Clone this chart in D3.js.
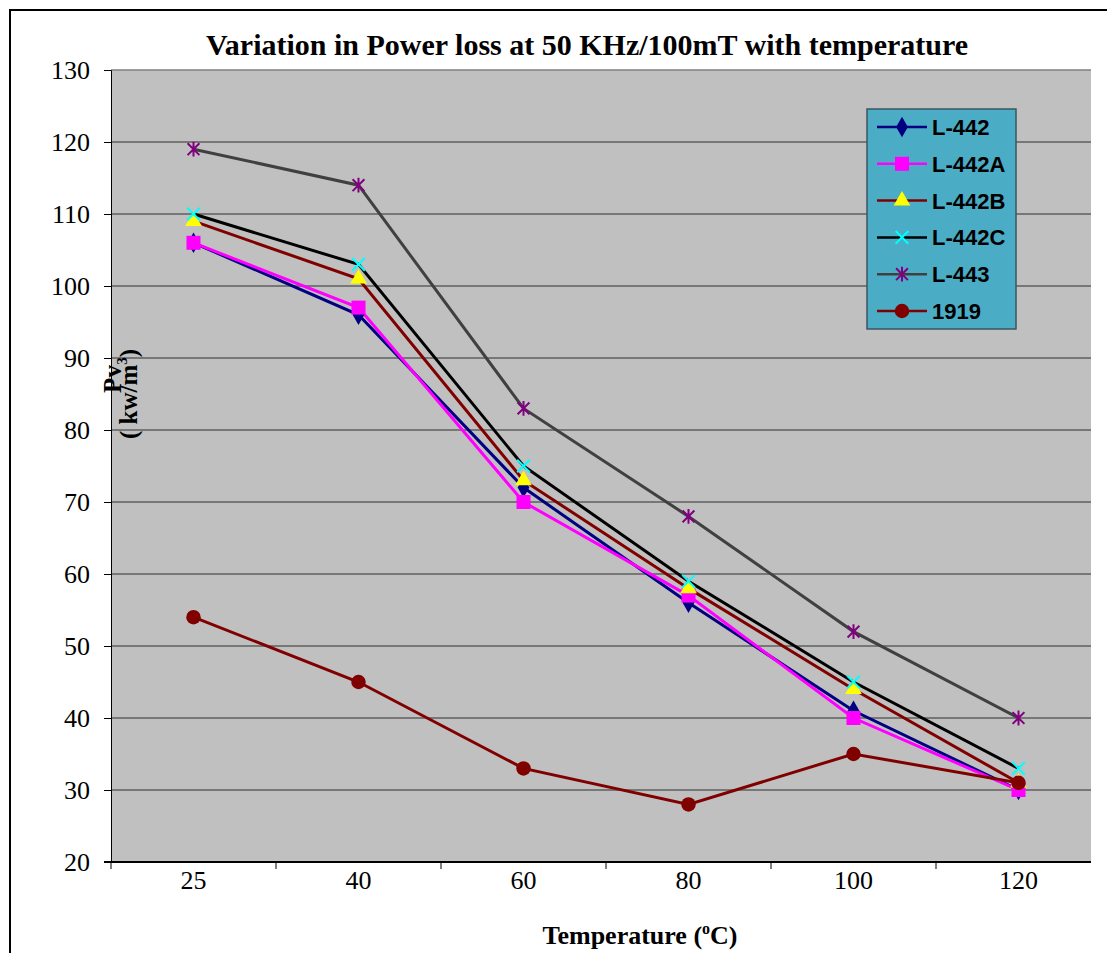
<!DOCTYPE html>
<html>
<head>
<meta charset="utf-8">
<script src="https://cdn.jsdelivr.net/npm/d3@7"></script>
<style>
  body { margin: 0; background: #fff; }
  svg { display: block; }
</style>
</head>
<body>
<script>
// chart data
var temps = ["25", "40", "60", "80", "100", "120"];
var seriesNames = ["L-442", "L-442A", "L-442B", "L-442C", "L-443", "1919"];
var l442  = [106, 96, 72, 56, 41, 30];
var l442A = [106, 97, 70, 57, 40, 30];
var l442B = [109, 101, 73, 58, 44, 31];
var l442C = [110, 103, 75, 59, 45, 33];
var l443  = [119, 114, 83, 68, 52, 40];
var s1919 = [54, 45, 33, 28, 35, 31];
var yTicks = [20, 30, 40, 50, 60, 70, 80, 90, 100, 110, 120, 130];

var width = 1107, height = 953;
var serif = "'Liberation Serif', 'Times New Roman', serif";
var sans = "'Liberation Sans', Arial, sans-serif";

//custom marker shapes (x and 6-arm asterisk)
var symX = {
    draw: function(ctx, size){
        var r = Math.sqrt(size) / 2;
        ctx.moveTo(-r, -r); ctx.lineTo(r, r);
        ctx.moveTo(-r, r); ctx.lineTo(r, -r);
    }
};
var symStar = {
    draw: function(ctx, size){
        var r = Math.sqrt(size) / 2;
        ctx.moveTo(-r, -r); ctx.lineTo(r, r);
        ctx.moveTo(-r, r); ctx.lineTo(r, -r);
        ctx.moveTo(0, -r * 1.25); ctx.lineTo(0, r * 1.25);
    }
};

var series = [
    {name: seriesNames[0], values: l442,  line: "#000080", sym: d3.symbolDiamond,  symSize: 120, fill: "#000080", stroke: "none"},
    {name: seriesNames[1], values: l442A, line: "#ff00ff", sym: d3.symbolSquare,   symSize: 196, fill: "#ff00ff", stroke: "none"},
    {name: seriesNames[2], values: l442B, line: "#800000", sym: d3.symbolTriangle, symSize: 120, fill: "#ffff00", stroke: "none"},
    {name: seriesNames[3], values: l442C, line: "#000000", sym: symX,              symSize: 160, fill: "none",    stroke: "#00ffff"},
    {name: seriesNames[4], values: l443,  line: "#404040", sym: symStar,           symSize: 140, fill: "none",    stroke: "#800080"},
    {name: seriesNames[5], values: s1919, line: "#800000", sym: d3.symbolCircle,   symSize: 165, fill: "#800000", stroke: "none"}
];

var svg = d3.select("body").append("svg")
    .attr("width", width)
    .attr("height", height);

svg.append("rect").attr("width", width).attr("height", height).attr("fill", "#fff");

//outer chart border (cropped on right and bottom)
svg.append("rect")
    .attr("x", 10).attr("y", 10)
    .attr("width", 1200).attr("height", 1100)
    .attr("fill", "none").attr("stroke", "#000").attr("stroke-width", 2);

var plot = {left: 111, right: 1091, top: 70, bottom: 862};

var x = d3.scaleBand()
    .domain(temps)
    .range([plot.left, plot.left + 990])
    .padding(0);

var y = d3.scaleLinear()
    .domain([20, 130])
    .range([plot.bottom, plot.top]);

function cx(i){ return x(temps[i]) + x.bandwidth() / 2; }

//plot background
svg.append("rect")
    .attr("x", plot.left).attr("y", plot.top)
    .attr("width", plot.right - plot.left)
    .attr("height", plot.bottom - plot.top)
    .attr("fill", "#c0c0c0");

//gridlines
svg.selectAll(".grid")
    .data(yTicks.slice(1))
    .enter()
    .append("line")
    .attr("class", "grid")
    .attr("x1", plot.left).attr("x2", plot.right)
    .attr("y1", function(d){ return y(d); })
    .attr("y2", function(d){ return y(d); })
    .attr("stroke", function(d){ return d == 130 ? "#808080" : "#5f5f5f"; })
    .attr("stroke-width", 1.5);

//y axis
var yAxis = svg.append("g")
    .attr("transform", "translate(" + plot.left + ",0)")
    .call(d3.axisLeft(y).tickValues(yTicks).tickSize(7).tickPadding(14));
yAxis.select(".domain").attr("stroke", "#000").attr("stroke-width", 1);
yAxis.selectAll("text")
    .attr("font-family", serif).attr("font-size", 26).attr("fill", "#000");

//x axis: labels centred in the bands, ticks on band edges
var xAxis = svg.append("g")
    .attr("transform", "translate(0," + plot.bottom + ")")
    .call(d3.axisBottom(x).tickSize(0).tickPadding(9));
xAxis.select(".domain").remove();
xAxis.selectAll("text")
    .attr("font-family", serif).attr("font-size", 26).attr("fill", "#000");

svg.selectAll(".xtick")
    .data(temps)
    .enter()
    .append("line")
    .attr("class", "xtick")
    .attr("x1", function(d){ return x(d); })
    .attr("x2", function(d){ return x(d); })
    .attr("y1", plot.bottom).attr("y2", plot.bottom + 7)
    .attr("stroke", "#000").attr("stroke-width", 1);

svg.append("line")
    .attr("x1", plot.left - 7).attr("x2", plot.right)
    .attr("y1", plot.bottom).attr("y2", plot.bottom)
    .attr("stroke", "#000").attr("stroke-width", 2);

//series lines and markers
var line = d3.line()
    .x(function(d, i){ return cx(i); })
    .y(function(d){ return y(d); });

series.forEach(function(s){
    svg.append("path")
        .datum(s.values)
        .attr("d", line)
        .attr("fill", "none")
        .attr("stroke", s.line)
        .attr("stroke-width", 3);
});

series.forEach(function(s){
    svg.selectAll(null)
        .data(s.values)
        .enter()
        .append("path")
        .attr("transform", function(d, i){ return "translate(" + cx(i) + "," + y(d) + ")"; })
        .attr("d", d3.symbol().type(s.sym).size(s.symSize))
        .attr("fill", s.fill)
        .attr("stroke", s.stroke)
        .attr("stroke-width", s.stroke == "none" ? 0 : 2);
});

//title
svg.append("text")
    .attr("x", 587).attr("y", 55)
    .attr("text-anchor", "middle")
    .attr("font-family", serif).attr("font-weight", "bold").attr("font-size", 30)
    .text("Variation in Power loss at 50 KHz/100mT with temperature");

//x axis title
var xt = svg.append("text")
    .attr("x", 640).attr("y", 944)
    .attr("text-anchor", "middle")
    .attr("font-family", serif).attr("font-weight", "bold").attr("font-size", 26);
xt.append("tspan").text("Temperature (");
xt.append("tspan").attr("font-size", 16).attr("dy", -10).text("o");
xt.append("tspan").attr("dy", 10).text("C)");

//y axis title, two rotated lines
var yt = svg.append("g").attr("transform", "translate(128,394) rotate(-90)")
    .attr("font-family", serif).attr("font-weight", "bold").attr("font-size", 25);
yt.append("text").attr("x", 15).attr("y", -7).attr("text-anchor", "middle").text("Pv");
var yt2 = yt.append("text").attr("x", 0).attr("y", 9).attr("text-anchor", "middle");
yt2.append("tspan").text("( kw/m");
yt2.append("tspan").attr("font-size", 15).attr("dy", -10).text("3");
yt2.append("tspan").attr("dy", 10).text(")");

//legend
var legend = svg.append("g").attr("transform", "translate(867,109)");
legend.append("rect")
    .attr("width", 149).attr("height", 220)
    .attr("fill", "#4bacc6").attr("stroke", "#3a5560").attr("stroke-width", 1.5);

var rows = legend.selectAll(".row")
    .data(series)
    .enter()
    .append("g")
    .attr("class", "row")
    .attr("transform", function(d, i){ return "translate(0," + (18 + i * 36.8) + ")"; });

rows.append("line")
    .attr("x1", 10).attr("x2", 60)
    .attr("stroke", function(d){ return d.line; })
    .attr("stroke-width", 2.5);

rows.append("path")
    .attr("transform", "translate(35,0)")
    .attr("d", function(d){ return d3.symbol().type(d.sym).size(d.symSize)(); })
    .attr("fill", function(d){ return d.fill; })
    .attr("stroke", function(d){ return d.stroke; })
    .attr("stroke-width", function(d){ return d.stroke == "none" ? 0 : 2; });

rows.append("text")
    .attr("x", 65).attr("y", 8)
    .attr("font-family", sans).attr("font-weight", "bold").attr("font-size", 22)
    .text(function(d){ return d.name; });
</script>
</body>
</html>
